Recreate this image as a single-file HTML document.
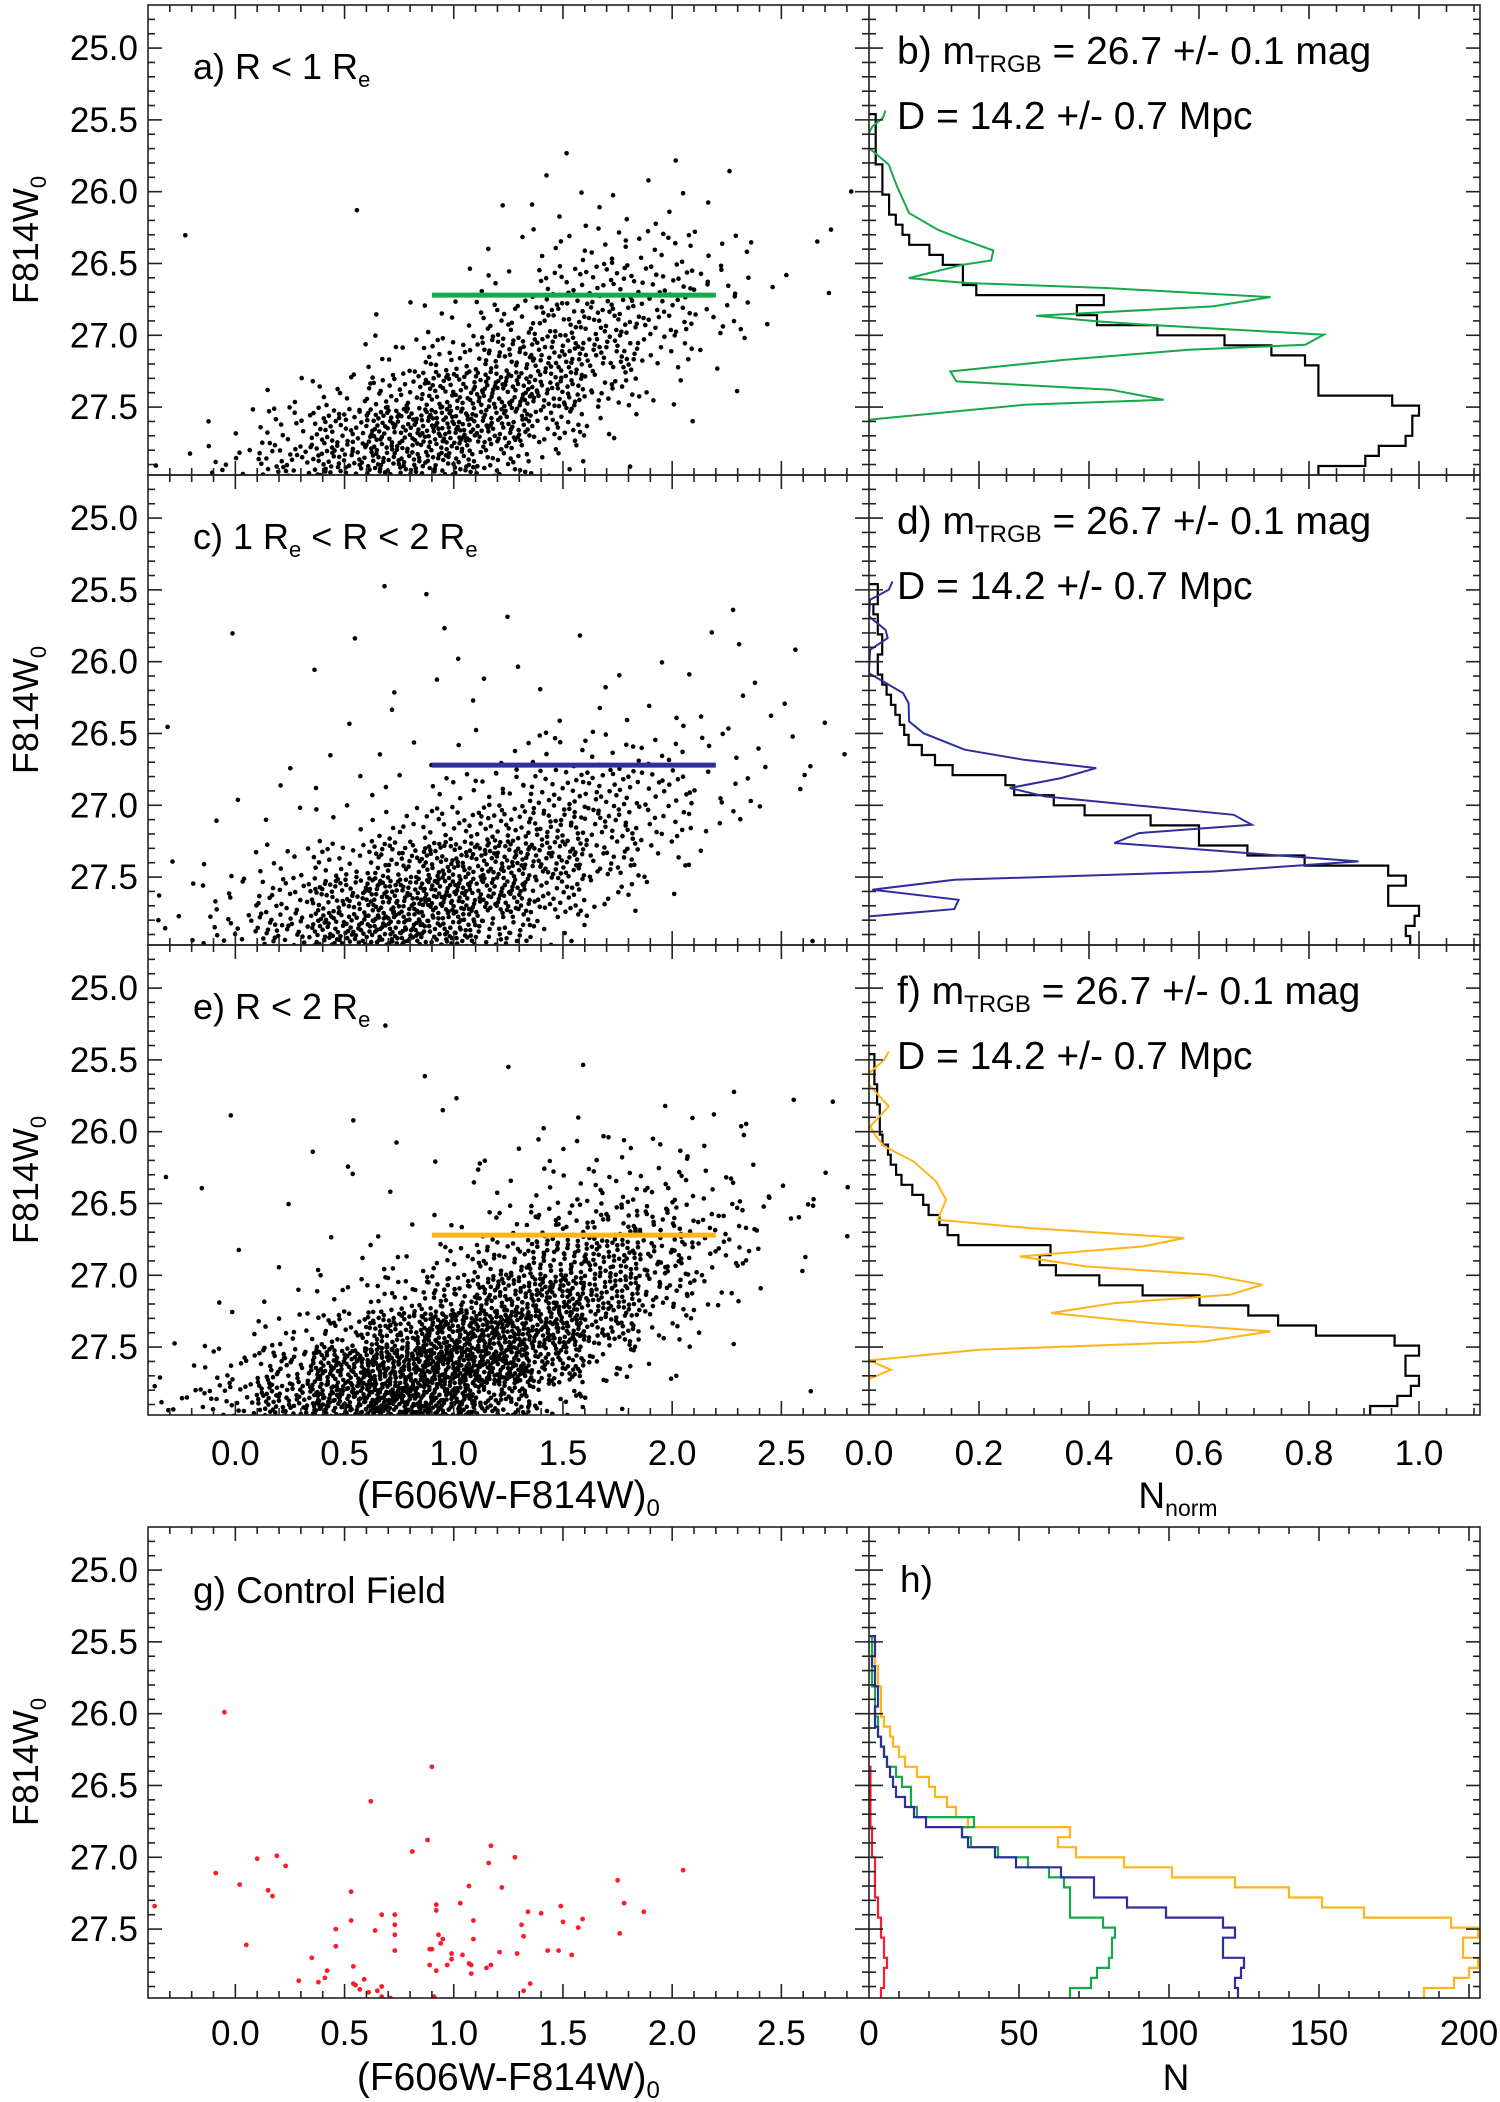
<!DOCTYPE html>
<html><head><meta charset="utf-8"><title>TRGB CMD figure</title>
<style>
html,body{margin:0;padding:0;background:#fff;}
svg{display:block;font-family:"Liberation Sans",Arial,sans-serif;}
</style></head>
<body>
<svg id="fig" width="1500" height="2102" viewBox="0 0 1500 2102" xmlns="http://www.w3.org/2000/svg" xml:space="preserve">
<defs>
<clipPath id="clipL0"><rect x="148" y="5" width="721" height="470"/></clipPath>
<clipPath id="clipL1"><rect x="148" y="475" width="721" height="470"/></clipPath>
<clipPath id="clipL2"><rect x="148" y="945" width="721" height="470"/></clipPath>
<clipPath id="clipL3"><rect x="148" y="1527" width="721" height="471"/></clipPath>
<clipPath id="clipR0"><rect x="869" y="5" width="611" height="470"/></clipPath>
<clipPath id="clipR1"><rect x="869" y="475" width="611" height="470"/></clipPath>
<clipPath id="clipR2"><rect x="869" y="945" width="611" height="470"/></clipPath>
<clipPath id="clipR3"><rect x="869" y="1527" width="611" height="471"/></clipPath>
</defs>
<g id="layer"></g>
</svg>
<script>
// ---------- DATA ----------
const magRowStarts = [25.25,25.5,25.75,26.0,26.25,26.5,26.75,27.0,27.25,27.5,27.75];
const colorColStarts = [-0.4,-0.15,0.1,0.35,0.6,0.85,1.1,1.35,1.6,1.85,2.1,2.35,2.6];
const countsInner = [ // panel a: R < 1 Re
 [0,0,0,0,0,0,0,0,0,0,0,0,0],
 [0,0,0,0,0,0,0,1,0,0,0,0,0],
 [0,0,0,0,0,0,0,1,0,2,1,0,1],
 [0,0,0,1,0,0,1,3,4,3,1,0,0],
 [1,0,0,0,0,0,2,6,10,10,5,1,2],
 [0,0,0,0,0,1,5,15,20,18,10,2,1],
 [0,0,0,0,2,6,18,30,32,20,9,1,0],
 [0,0,0,1,8,20,38,46,34,12,3,0,0],
 [0,0,3,10,28,50,62,50,20,4,1,0,0],
 [0,3,15,38,64,76,60,28,5,1,0,0,0],
 [3,10,30,50,64,56,30,8,1,0,0,0,0]];
const countsOuter = [ // panel c: 1 Re < R < 2 Re
 [0,0,0,0,1,0,0,0,0,0,0,0,0],
 [0,0,0,0,0,1,1,0,0,0,1,0,0],
 [0,1,0,1,0,2,0,1,0,0,2,1,0],
 [0,0,0,1,1,1,2,1,2,2,1,1,0],
 [1,0,0,1,1,1,1,2,3,3,2,2,1],
 [0,0,1,1,2,2,3,7,9,7,4,3,2],
 [0,1,1,2,3,7,14,22,24,16,6,2,1],
 [0,1,2,5,10,20,32,36,28,14,4,1,0],
 [1,3,8,18,38,56,60,48,26,7,1,0,0],
 [2,8,22,50,74,80,62,32,9,2,0,0,0],
 [5,15,35,68,84,68,36,10,1,0,0,0,1]];
const trgbMag = 26.72;
const trgbColorRange = [0.9, 2.2];
const ctrlColor = [-0.05,0.90,0.62,0.88,0.81,1.17,1.16,1.28,0.10,0.19,0.23,-0.09,0.02,0.15,0.17,0.53,2.05,1.75,1.78,1.87,1.76,-0.37,1.07,1.22,0.92,0.92,1.03,0.67,0.73,0.73,0.73,0.64,0.53,0.46,0.46,0.05,1.09,1.09,0.93,0.95,0.94,0.89,0.90,0.73,0.99,0.99,1.04,1.21,1.29,1.31,1.32,1.34,1.40,1.49,1.50,1.59,1.57,1.43,1.48,1.54,0.89,0.92,0.97,1.07,1.08,1.08,1.15,1.17,0.35,0.42,0.41,0.29,0.38,0.54,0.54,0.55,0.59,0.57,0.61,0.65,0.67,0.67,0.71,0.91,1.32,1.35];
const ctrlMag = [25.99,26.37,26.61,26.88,26.96,26.92,27.04,27.00,27.01,26.99,27.06,27.11,27.19,27.23,27.27,27.24,27.09,27.16,27.32,27.38,27.53,27.34,27.20,27.21,27.33,27.37,27.32,27.40,27.40,27.47,27.54,27.51,27.44,27.50,27.62,27.61,27.44,27.57,27.54,27.57,27.60,27.64,27.64,27.65,27.67,27.71,27.68,27.66,27.67,27.47,27.55,27.38,27.39,27.34,27.45,27.43,27.49,27.65,27.65,27.68,27.75,27.79,27.75,27.74,27.75,27.81,27.77,27.75,27.70,27.79,27.84,27.86,27.87,27.76,27.88,27.89,27.85,27.92,27.94,27.93,27.90,27.97,27.98,27.97,27.93,27.88];
const lfBinStart = 25.46;
const lfBinWidth = 0.07;
const lfGreen = [1,1,1,1,1,2,2,2,3,3,4,5,6,9,11,14,14,16,35,31,34,43,53,60,65,67,67,67,78,82,81,81,80,76,74,67];
const lfBlue = [2,2,1,2,2,3,3,2,2,3,4,5,6,7,8,9,12,15,19,31,33,42,49,64,75,75,86,99,118,122,118,118,125,124,122,123];
const lfOrange = [2,2,2,3,3,4,4,4,5,7,8,10,12,16,20,22,26,29,33,67,63,69,85,101,122,140,151,165,194,203,198,198,203,200,195,185];
const lfRed = [null,null,null,null,null,null,null,null,null,null,null,null,null,0.5,0.5,0.5,0.5,0.5,0.5,1,1,1,2,2,2,2,3,3,4,4,5,5,6,5,5,4];
const edgeMagB = [25.434,25.487,25.546,25.592,25.696,25.812,25.963,26.149,26.265,26.323,26.409,26.479,26.509,26.602,26.636,26.671,26.734,26.799,26.864,26.903,26.927,26.996,27.066,27.101,27.170,27.252,27.321,27.379,27.449,27.484,27.588];
const edgeValB = [0.030,0.025,0.006,0,0,0.036,0.051,0.073,0.125,0.163,0.226,0.222,0.170,0.072,0.178,0.431,0.730,0.625,0.304,0.416,0.506,0.827,0.793,0.581,0.357,0.148,0.159,0.439,0.536,0.282,0];
const edgeMagD = [25.441,25.499,25.569,25.685,25.778,25.836,25.917,26.056,26.080,26.219,26.289,26.416,26.498,26.613,26.683,26.741,26.811,26.880,26.938,27.008,27.066,27.136,27.194,27.263,27.356,27.391,27.461,27.519,27.588,27.658,27.723,27.774];
const edgeValD = [0.043,0.036,0.002,0,0.030,0.034,0.002,0,0,0.062,0.072,0.073,0.099,0.174,0.282,0.413,0.349,0.256,0.319,0.506,0.663,0.696,0.491,0.446,0.767,0.890,0.625,0.155,0.006,0.163,0.155,0];
const edgeMagF = [25.441,25.499,25.592,25.673,25.824,25.963,26.033,26.103,26.207,26.346,26.474,26.613,26.671,26.741,26.799,26.869,26.938,26.996,27.066,27.136,27.194,27.263,27.333,27.391,27.461,27.519,27.593,27.658,27.723];
const edgeValF = [0.036,0.028,0,0,0.036,0.002,0.013,0.028,0.081,0.122,0.140,0.125,0.290,0.573,0.499,0.274,0.394,0.618,0.715,0.655,0.446,0.331,0.513,0.730,0.610,0.200,0,0.040,0];
const magTicks = [25.0,25.5,26.0,26.5,27.0,27.5];
const colorTicks = [0.0,0.5,1.0,1.5,2.0,2.5];
const normTicks = [0.0,0.2,0.4,0.6,0.8,1.0];
const countTicks = [0,50,100,150,200];

// ---------- LAYOUT ----------
const NS = "http://www.w3.org/2000/svg";
const layer = document.getElementById('layer');
const L0 = 148, DIV = 869, R1 = 1480;
const tops = [5,475,945,1527];
const PH = 470;
const MAG0 = 24.7, MAGS = 143.6;
const COL = { green:'#16a84a', blue:'#2e2e9c', orange:'#ffb418', red:'#ff1a2a', black:'#000' };
function X(c){ return L0 + (c + 0.4) * 218.4; }
function Y(m, top){ return top + (m - MAG0) * MAGS; }
function XN(v){ return DIV + v * 550; }
function XH(n){ return DIV + n * 3; }
function mk(tag, attrs, parent){ const e=document.createElementNS(NS,tag); for(const k in attrs) e.setAttribute(k,attrs[k]); (parent||layer).appendChild(e); return e; }
function halton(i,b){ let f=1,r=0; while(i>0){ f/=b; r+=f*(i%b); i=Math.floor(i/b);} return r; }

// ---------- SCATTER ----------
function drawGrid(grid, top, seed, g){
  for(let r=0;r<magRowStarts.length;r++){
    for(let c=0;c<colorColStarts.length;c++){
      const n = grid[r][c];
      for(let k=0;k<n;k++){
        const idx = k + 1 + seed + (r*13+c)*17;
        const cc = colorColStarts[c] + 0.25*halton(idx,2);
        const mm = magRowStarts[r] + 0.25*halton(idx,3);
        const d = mk('circle',{cx:X(cc).toFixed(1),cy:Y(mm,top).toFixed(1),r:2.3,fill:'#000'},g);
        
        
      }
    }
  }
}
const cmdPanels = [
  {top:tops[0], grids:[countsInner], trgbColor:COL.green, name:'cmd-panel-a'},
  {top:tops[1], grids:[countsOuter], trgbColor:COL.blue, name:'cmd-panel-c'},
  {top:tops[2], grids:[countsInner,countsOuter], trgbColor:COL.orange, name:'cmd-panel-e'}];
cmdPanels.forEach((p,pi)=>{
  const g = mk('g',{'clip-path':'url(#clipL'+pi+')'});
  
  
  p.grids.forEach((gr,gi)=>drawGrid(gr,p.top,gi*5003+pi*101,g));
  const t = mk('line',{x1:X(trgbColorRange[0]),x2:X(trgbColorRange[1]),y1:Y(trgbMag,p.top),y2:Y(trgbMag,p.top),stroke:p.trgbColor,'stroke-width':5},g);
  
  
});
{
  const g = mk('g',{'clip-path':'url(#clipL3)'});
  
  
  for(let i=0;i<ctrlColor.length;i++){
    const d = mk('circle',{cx:X(ctrlColor[i]).toFixed(1),cy:Y(ctrlMag[i],tops[3]).toFixed(1),r:2.4,fill:COL.red},g);
    
    
  }
}

// ---------- HISTOGRAMS ----------
function stepPath(vals, top, xf){
  let d=''; let started=false;
  for(let i=0;i<vals.length;i++){
    if(vals[i]===null) continue;
    const y0 = Y(lfBinStart + i*lfBinWidth, top), y1 = Y(lfBinStart + (i+1)*lfBinWidth, top);
    const x = xf(vals[i]);
    if(!started){ d += 'M'+xf(0).toFixed(1)+','+y0.toFixed(1)+' L'+x.toFixed(1)+','+y0.toFixed(1); started=true; }
    else d += ' L'+x.toFixed(1)+','+y0.toFixed(1);
    d += ' L'+x.toFixed(1)+','+y1.toFixed(1);
  }
  return d;
}
function polyPath(mags, vals, top){
  return mags.map((m,i)=>(i?'L':'M')+XN(vals[i]).toFixed(1)+','+Y(m,top).toFixed(1)).join(' ');
}
const histPanels = [
  {top:tops[0], lf:lfGreen, eM:edgeMagB, eV:edgeValB, col:COL.green, name:'lf-panel-b'},
  {top:tops[1], lf:lfBlue, eM:edgeMagD, eV:edgeValD, col:COL.blue, name:'lf-panel-d'},
  {top:tops[2], lf:lfOrange, eM:edgeMagF, eV:edgeValF, col:COL.orange, name:'lf-panel-f'}];
histPanels.forEach((p,pi)=>{
  const g = mk('g',{'clip-path':'url(#clipR'+pi+')'});
  
  
  const mx = Math.max(...p.lf);
  const norm = p.lf.map(v=>v/mx);
  const h = mk('path',{d:stepPath(norm,p.top,XN),fill:'none',stroke:'#000','stroke-width':2.2},g);
  
  
  const e = mk('path',{d:polyPath(p.eM,p.eV,p.top),fill:'none',stroke:p.col,'stroke-width':2},g);
  
  
});
{
  const g = mk('g',{'clip-path':'url(#clipR3)'});
  
  
  [[lfRed,COL.red,'lf-control'],[lfOrange,COL.orange,'lf-r-lt-2re'],[lfGreen,COL.green,'lf-r-lt-1re'],[lfBlue,COL.blue,'lf-1re-2re']].forEach(s=>{
    const p = mk('path',{d:stepPath(s[0],tops[3],XH),fill:'none',stroke:s[1],'stroke-width':2.2},g);
    
    
  });
}

// ---------- AXES ----------
const axg = mk('g',{stroke:'#222','stroke-width':1.6,fill:'none'});


function line(x1,y1,x2,y2){ mk('line',{x1,y1,x2,y2},axg); }
tops.forEach((top,pi)=>{
  const bot = top + PH + (pi===3?1:0);
  mk('rect',{x:L0,y:top,width:R1-L0,height:bot-top},axg);
  line(DIV,top,DIV,bot);
  for(let k=0;k<=32;k++){
    const m = 24.7 + k*0.1; if(m>27.97) break;
    const y = Y(m,top); if(y<=top+1) continue;
    const major = Math.abs((m*2)-Math.round(m*2))<1e-6;
    const len = major?14:7;
    line(L0,y,L0+len,y); line(DIV-len,y,DIV+len,y); line(R1-len,y,R1,y);
  }
  for(let k=-3;k<=28;k++){
    const c=k/10, x=X(c); const major=(k%5===0); const len=major?14:7;
    line(x,top,x,top+len); line(x,bot,x,bot-len);
  }
  if(pi<3){
    for(let k=1;k<=22;k++){ const v=k*0.05, x=XN(v); if(x>=R1) break; const len=(k%4===0)?14:7; line(x,top,x,top+len); line(x,bot,x,bot-len); }
  } else {
    for(let k=1;k<=20;k++){ const v=k*10, x=XH(v); if(x>=R1) break; const len=(k%5===0)?14:7; line(x,top,x,top+len); line(x,bot,x,bot-len); }
  }
});

// ---------- TEXT ----------
function txt(s, attrs, name){ const t=mk('text',Object.assign({fill:'#000'},attrs)); t.textContent=s;   return t; }
tops.forEach(top=>{
  magTicks.forEach(m=>txt(m.toFixed(1),{x:138,y:Y(m,top)+12,'font-size':35,'text-anchor':'end'},'y-tick-label'));
});
colorTicks.forEach(c=>{
  txt(c.toFixed(1),{x:X(c),y:1465,'font-size':35,'text-anchor':'middle'},'x-tick-label');
  txt(c.toFixed(1),{x:X(c),y:2045,'font-size':35,'text-anchor':'middle'},'x-tick-label');
});
normTicks.forEach(v=>txt(v.toFixed(1),{x:XN(v),y:1465,'font-size':35,'text-anchor':'middle'},'x-tick-label'));
countTicks.forEach(v=>txt(String(v),{x:XH(v),y:2045,'font-size':35,'text-anchor':'middle'},'x-tick-label'));

function richText(x,y,parts,size,name,anchor){
  const t=mk('text',{x,y,'font-size':size,fill:'#000','text-anchor':anchor||'start'});
  
  
  parts.forEach(p=>{
    const s=document.createElementNS(NS,'tspan');
    if(p[1]==='sub'){ s.setAttribute('font-size',Math.round(size*0.62)); s.setAttribute('dy',8); }
    else if(p[1]==='back'){ s.setAttribute('dy',-8); }
    s.textContent=p[0]; t.appendChild(s);
  });
  return t;
}
tops.forEach(top=>{
  const cy = top+235;
  const t = richText(0,0,[['F814W',''],['0','sub']],36,'y-axis-title','middle');
  t.setAttribute('transform','translate(38,'+cy+') rotate(-90)');
});
richText(X(1.25),1508,[['(F606W-F814W)',''],['0','sub']],39,'x-axis-title','middle');
richText(X(1.25),2090,[['(F606W-F814W)',''],['0','sub']],39,'x-axis-title','middle');
richText(1178,1508,[['N',''],['norm','sub']],37,'x-axis-title-nnorm','middle');
txt('N',{x:1176,y:2090,'font-size':37,'text-anchor':'middle'},'x-axis-title-n');

richText(193,tops[0]+74,[['a) R < 1 R',''],['e','sub']],36,'panel-label-a');
richText(193,tops[1]+74,[['c) 1 R',''],['e','sub'],[' < R < 2 R','back'],['e','sub']],36,'panel-label-c');
richText(193,tops[2]+74,[['e) R < 2 R',''],['e','sub']],36,'panel-label-e');
txt('g) Control Field',{x:193,y:tops[3]+76,'font-size':37},'panel-label-g');
txt('h)',{x:900,y:tops[3]+65,'font-size':37},'panel-label-h');
['b','d','f'].forEach((l,i)=>{
  const gap = (l==='d')?' ':'  ';
  richText(897,tops[i]+59,[[l+') m',''],['TRGB','sub'],[' = 26.7 +/- 0.1'+gap+'mag','back']],39,'trgb-label-'+l);
  txt('D = 14.2 +/- 0.7 Mpc',{x:897,y:tops[i]+124,'font-size':39},'distance-label-'+l);
});
</script>
</body></html>
